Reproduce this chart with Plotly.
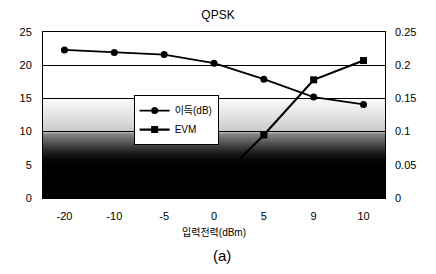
import plotly.graph_objects as go

categories = ["-20", "-10", "-5", "0", "5", "9", "10"]
gain_db = [22.3, 21.9, 21.6, 20.3, 17.9, 15.2, 14.1]
evm = [0.01, 0.01, 0.01, 0.02, 0.095, 0.178, 0.207]

FONT = "Arial, Liberation Sans, Noto Sans CJK KR, sans-serif"

fig = go.Figure()
fig.add_trace(go.Scatter(
    x=categories, y=gain_db, name="이득(dB)", mode="lines+markers",
    line=dict(color="black", width=1.8),
    marker=dict(symbol="circle", size=7, color="black"),
))
fig.add_trace(go.Scatter(
    x=categories, y=evm, name="EVM", mode="lines+markers", yaxis="y2",
    line=dict(color="black", width=2.2),
    marker=dict(symbol="square", size=7, color="black"),
))

# background gradient (decoration): white above 15, darkening to black near 6
anchors = [(15.0, 250), (14.0, 240), (12.0, 222), (10.2, 200), (9.8, 135),
           (8.5, 85), (7.0, 30), (6.0, 8), (5.0, 2), (0.0, 0)]

def gray_at(v):
    for (y1, g1), (y0, g0) in zip(anchors[:-1], anchors[1:]):
        if y0 <= v <= y1:
            t = (v - y0) / (y1 - y0)
            return int(round(g0 + t * (g1 - g0)))
    return 0

step = 0.2
n = int(round(15 / step))
shapes = []
for i in range(n):
    lo = i * step
    hi = lo + step
    g = gray_at(lo + step / 2)
    shapes.append(dict(type="rect", xref="paper", yref="y", x0=0, x1=1,
                       y0=max(lo - step * 0.8, 0), y1=hi, layer="below",
                       line=dict(width=0), fillcolor=f"rgb({g},{g},{g})"))

fig.update_layout(
    width=420, height=258,
    margin=dict(l=29, r=29, t=24, b=68),
    paper_bgcolor="white", plot_bgcolor="white",
    font=dict(family=FONT, size=11, color="black"),
    title=dict(text="QPSK", x=0.5, xanchor="center", y=0.973, yanchor="middle",
               font=dict(size=12, family=FONT)),
    shapes=shapes,
    showlegend=True,
    legend=dict(x=0.265, y=0.62, xanchor="left", yanchor="top",
                bgcolor="white", bordercolor="black", borderwidth=1,
                font=dict(size=10, family=FONT), tracegroupgap=0,
                itemwidth=30),
    xaxis=dict(type="category", showgrid=False, showline=True, linecolor="black",
               linewidth=1, mirror=True, ticks="", ticklabelstandoff=8),
    yaxis=dict(range=[0, 25], dtick=5, showgrid=True, gridcolor="black",
               gridwidth=1, showline=True, linecolor="black", mirror=True,
               ticks="", zeroline=False, ticklabelstandoff=8),
    yaxis2=dict(range=[0, 0.25], dtick=0.05, overlaying="y", side="right",
                showgrid=False, ticks="", zeroline=False, showline=False,
                ticklabelstandoff=9),
    annotations=[
        dict(text="입력전력(dBm)", xref="paper", yref="paper", x=0.5, y=-0.205,
             xanchor="center", yanchor="middle", showarrow=False,
             font=dict(size=10, family=FONT)),
        dict(text="(a)", xref="paper", yref="paper", x=0.522, y=-0.349,
             xanchor="center", yanchor="middle", showarrow=False,
             font=dict(size=15, family=FONT)),
    ],
)

fig.write_html("out.html")
